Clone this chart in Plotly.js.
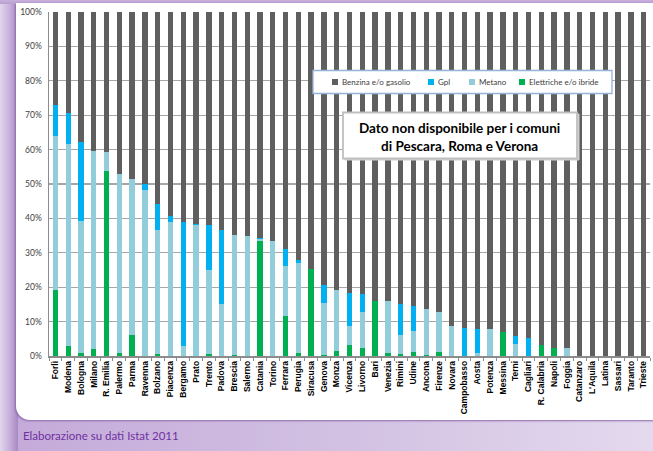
<!DOCTYPE html>
<html>
<head>
<meta charset="utf-8">
<script src="https://cdn.plot.ly/plotly-3.0.1.min.js"></script>
<style>
html,body{margin:0;padding:0;width:653px;height:451px;overflow:hidden;}
body{position:relative;background:linear-gradient(to right,#c3a9d9 0%,#d3c2e3 55%,#e4d9ee 100%);}
#leftstrip{position:absolute;left:0;top:0;width:18px;height:451px;background:linear-gradient(to right,#e2d6ec 0%,#c9b2dc 50%,#a888c4 100%);}
#topstrip{position:absolute;left:0;top:0;width:653px;height:4px;background:linear-gradient(to bottom,#c8b1dc,#b99dd2);}
#panel{position:absolute;left:16px;top:3px;width:640px;height:417px;background:#fff;border-bottom-left-radius:14px;box-shadow:-1px 1px 2px #8c6cab;}
#chart{position:absolute;left:0;top:0;width:653px;height:451px;}
</style>
</head>
<body>
<div id="leftstrip"></div>
<div id="topstrip"></div>
<div id="panel"></div>
<div id="chart"></div>
<script>
const cities = ["Forlì","Modena","Bologna","Milano","R. Emilia","Palermo","Parma","Ravenna","Bolzano","Piacenza","Bergamo","Prato","Trento","Padova","Brescia","Salerno","Catania","Torino","Ferrara","Perugia","Siracusa","Genova","Monza","Vicenza","Livorno","Bari","Venezia","Rimini","Udine","Ancona","Firenze","Novara","Campobasso","Aosta","Potenza","Messina","Terni","Cagliari","R. Calabria","Napoli","Foggia","Catanzaro","L'Aquila","Latina","Sassari","Taranto","Trieste"];
const elettriche = [19.1,2.8,0.8,2.0,53.8,0.8,6.0,0,0.5,0,0,0,0.6,0,0.2,0,33.4,0,11.7,0.9,25.3,0.3,1.6,3.3,2.4,15.9,0.9,0.7,1.2,0.3,1.2,0,0,0,0,7.0,0,0,3.2,2.4,0,0,0,0,0,0,0];
const metano = [45.0,58.7,38.4,57.7,5.6,52.2,45.4,48.4,36.0,38.9,2.8,38.1,24.4,15.1,35.0,34.9,0.6,33.4,14.5,26.1,0,15.1,17.6,5.4,10.3,0,15.0,5.3,6.1,13.3,11.6,8.8,0,0.8,7.8,0,3.5,0,0,0,2.2,0,0,0,0,0,0];
const gpl = [9.0,9.2,23.0,0,0,0,0,1.6,7.8,1.7,36.3,0.2,13.1,21.5,0,0.1,0.4,0,4.9,0.8,0,5.2,0,9.5,5.2,0,0,9.2,7.1,0,0,0,8.1,7.1,0,0,2.4,5.3,0,0,0,0,0,0,0,0,0];
const benzina = [26.9,29.3,37.8,40.3,40.6,47.0,48.6,50.0,55.7,59.4,60.9,61.7,61.9,63.4,64.8,65.1,65.6,66.6,68.9,72.2,74.7,79.4,80.8,81.8,82.1,84.1,84.1,84.8,85.6,86.4,87.2,91.2,91.9,92.1,92.2,93.0,94.1,94.7,96.8,97.6,97.8,100,100,100,100,100,100];
const seriesNames = ["Benzina e/o gasolio","Gpl","Metano","Elettriche e/o ibride"];
const yTicks = [0,10,20,30,40,50,60,70,80,90,100];
const yTickLabels = ["0%","10%","20%","30%","40%","50%","60%","70%","80%","90%","100%"];
const footer = "Elaborazione su dati Istat 2011";
const note = "Dato non disponibile per i comuni<br>di Pescara, Roma e Verona";

const colors = {"Benzina e/o gasolio":"#5f5f5f","Gpl":"#00b0f0","Metano":"#92cddc","Elettriche e/o ibride":"#00b050"};
const valuesBy = {"Benzina e/o gasolio":benzina,"Gpl":gpl,"Metano":metano,"Elettriche e/o ibride":elettriche};
const stackOrder = ["Elettriche e/o ibride","Metano","Gpl","Benzina e/o gasolio"];

const traces = stackOrder.map(n => ({
  type:"bar", name:n, x:cities, y:valuesBy[n],
  marker:{color:colors[n], line:{width:0}},
  showlegend:false, hoverinfo:"x+y+name"
}));

// manual legend (px -> paper coords)
const W=653,H=451,ml=49,mr=3,mt=12,mb=95;
const pw=W-ml-mr, ph=H-mt-mb;
const px = x => (x-ml)/pw;
const py = y => (H-mb-y)/ph;

const shapes = [
  {type:"rect",xref:"paper",yref:"paper",x0:px(313),x1:px(612),y0:py(70.5),y1:py(93.5),line:{color:"#95b3d7",width:1.3},fillcolor:"#ffffff",layer:"above"},
  {type:"rect",xref:"paper",yref:"paper",x0:px(345),x1:px(579),y0:py(114),y1:py(160),line:{color:"#d0d0d0",width:1},fillcolor:"#d0d0d0",layer:"above"},
  {type:"rect",xref:"paper",yref:"paper",x0:px(343),x1:px(577),y0:py(112.5),y1:py(158.5),line:{color:"#bfbfbf",width:1.8},fillcolor:"#ffffff",layer:"above"}
];
const annotations = [];
const legX = [332,428,469,519];
seriesNames.forEach((n,i)=>{
  shapes.push({type:"rect",xref:"paper",yref:"paper",x0:px(legX[i]),x1:px(legX[i]+6),y0:py(79),y1:py(85),line:{width:0},fillcolor:colors[n],layer:"above"});
  annotations.push({xref:"paper",yref:"paper",x:px(legX[i]+8),y:py(82),text:n,showarrow:false,xanchor:"left",yanchor:"middle",font:{family:"Lato, sans-serif",size:8,color:"#404040"}});
});
annotations.push({xref:"paper",yref:"paper",x:px(460),y:py(136.5),text:note,showarrow:false,xanchor:"center",yanchor:"middle",align:"center",font:{family:"Lato, sans-serif",size:13.5,color:"#000",weight:"bold"}});
annotations.push({xref:"paper",yref:"paper",x:px(21),y:py(435),text:footer,showarrow:false,xanchor:"left",yanchor:"middle",font:{family:"Lato, sans-serif",size:11.5,color:"#7030a0"}});

const layout = {
  width:W,height:H,margin:{l:ml,r:mr,t:mt,b:mb},
  paper_bgcolor:"rgba(0,0,0,0)",plot_bgcolor:"rgba(0,0,0,0)",
  barmode:"stack",bargap:0.58,
  xaxis:{type:"category",tickangle:-90,tickfont:{family:"Liberation Sans, Arial, sans-serif",size:8.5,color:"#000",weight:"bold"},
    showline:true,linecolor:"#8c8c8c",linewidth:1.5,ticks:"outside",tickson:"boundaries",ticklen:3,tickcolor:"#8c8c8c",showgrid:false,fixedrange:true},
  yaxis:{range:[0,100],tickmode:"array",tickvals:yTicks,ticktext:yTickLabels,tickfont:{family:"Lato, sans-serif",size:8.5,color:"#404040"},
    showline:true,linecolor:"#8c8c8c",linewidth:1.5,gridcolor:"#a6a6a6",gridwidth:1.3,zeroline:false,ticks:"",ticklabelstandoff:4,fixedrange:true},
  shapes:shapes,annotations:annotations,showlegend:false
};
Plotly.newPlot("chart",traces,layout,{displayModeBar:false,staticPlot:true});
</script>
</body>
</html>
